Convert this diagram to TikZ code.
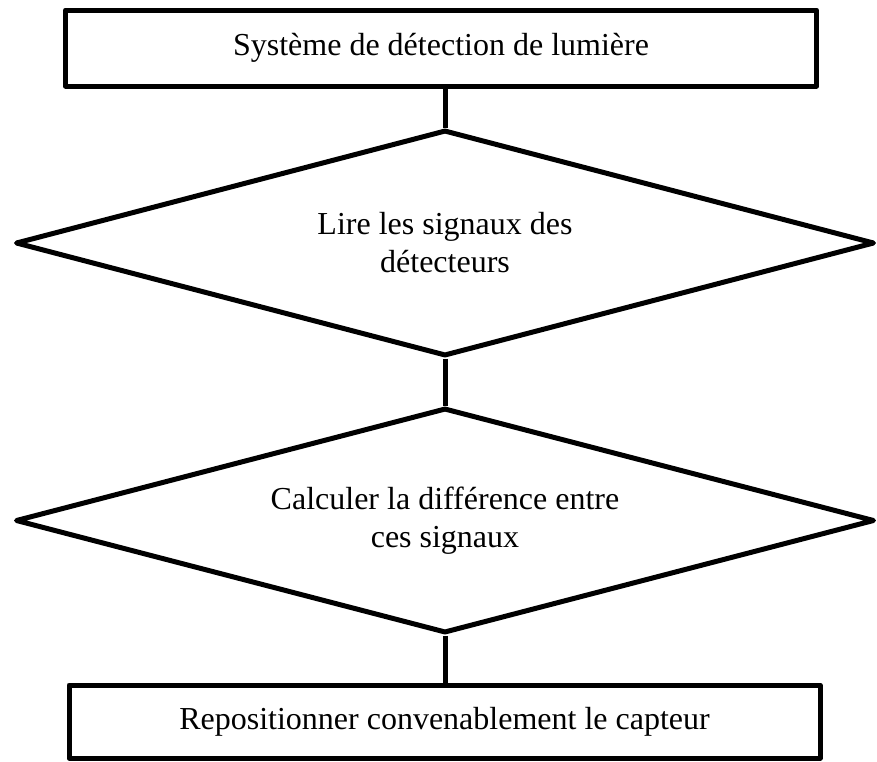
\documentclass[tikz,border=0pt]{standalone}
\usepackage{fontspec}
\setmainfont{Liberation Serif}
\usetikzlibrary{shapes.geometric}
\begin{document}
\begin{tikzpicture}[x=1pt,y=-1pt,
  box/.style={draw, line width=5pt, line join=round, rectangle, inner sep=0pt,
    minimum width=751pt, font=\fontsize{32}{38}\selectfont},
  decision/.style={draw, line width=5pt, line join=round, diamond, aspect=3.8,
    inner sep=0pt, minimum width=859pt, align=center,
    font=\fontsize{32}{38}\selectfont},
  link/.style={line width=5pt}]
\useasboundingbox (0,0) rectangle (877,761);
\node[box, minimum height=76pt] (r1) at (441,48) {Système de détection de lumière};
\node[decision, minimum height=226pt] (d1) at (445,243) {Lire les signaux des\\détecteurs};
\node[decision, minimum height=225pt] (d2) at (445,520.5) {Calculer la différence entre\\ces signaux};
\node[box, minimum height=73pt] (r2) at (444.5,721.5) {Repositionner convenablement le capteur};
\draw[link] (d1.north) -- (d1.north |- r1.south);
\draw[link] (d1.south) -- (d2.north);
\draw[link] (d2.south) -- (d2.south |- r2.north);
\end{tikzpicture}
\end{document}
